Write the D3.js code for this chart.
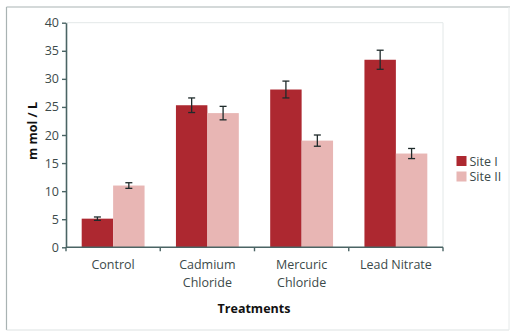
<!DOCTYPE html>
<html>
<head>
<meta charset="utf-8">
<script src="https://cdn.jsdelivr.net/npm/d3@7"></script>
<style>
  html, body { margin: 0; padding: 0; background: #fff; }
  svg { display: block; }
  text { font-family: "Open Sans", "Noto Sans", sans-serif; }
</style>
</head>
<body>
<svg id="chart" width="510" height="331"></svg>
<script>
// Treatment groups (multi-line labels split on "\n")
const categories = ["Control", "Cadmium\nChloride", "Mercuric\nChloride", "Lead Nitrate"];
const seriesNames = ["Site I", "Site II"];
const siteI = [5.1, 25.3, 28.1, 33.4];
const siteII = [11.0, 23.9, 19.0, 16.7];
const siteIErr = [0.3, 1.3, 1.5, 1.7];
const siteIIErr = [0.5, 1.2, 1.0, 0.9];
const yTicks = [0, 5, 10, 15, 20, 25, 30, 35, 40];
const colors = ["#ad2830", "#e8b6b4"];

const svg = d3.select("#chart");
const W = 510, H = 331;
const margin = { left: 66, right: 67, top: 22.7, bottom: 83.7 };

// Frame around the whole figure
svg.append("rect").attr("x", 0).attr("y", 0).attr("width", W).attr("height", H).attr("fill", "#fff");
svg.append("line").attr("x1", 6.5).attr("x2", 6.5).attr("y1", 7).attr("y2", 330).attr("stroke", "#a9b3b3").attr("stroke-width", 1.2);
svg.append("line").attr("x1", 6.5).attr("x2", 510).attr("y1", 7).attr("y2", 7).attr("stroke", "#a9b3b3").attr("stroke-width", 1.2);
svg.append("line").attr("x1", 6.5).attr("x2", 509).attr("y1", 330).attr("y2", 330).attr("stroke", "#dde2e2").attr("stroke-width", 1);
svg.append("line").attr("x1", 509).attr("x2", 509).attr("y1", 7).attr("y2", 330).attr("stroke", "#e6eaea").attr("stroke-width", 1);

const x0 = d3.scaleBand()
  .domain(categories)
  .range([margin.left, W - margin.right])
  .paddingInner(0.333)
  .paddingOuter(0.1665);
const x1 = d3.scaleBand()
  .domain(seriesNames)
  .range([0, x0.bandwidth()])
  .padding(0);
const y = d3.scaleLinear()
  .domain([0, 40])
  .range([H - margin.bottom, margin.top]);

// Plot area outline (top and right edges)
svg.append("path")
  .attr("d", `M${margin.left},${y(40)}H${W - margin.right}V${y(0)}`)
  .attr("fill", "none")
  .attr("stroke", "#e3e8e8")
  .attr("stroke-width", 1);

// Bars
const rows = categories.map((c, i) => ({
  cat: c,
  vals: [
    { s: seriesNames[0], v: siteI[i], e: siteIErr[i], c: colors[0] },
    { s: seriesNames[1], v: siteII[i], e: siteIIErr[i], c: colors[1] }
  ]
}));

const groups = svg.append("g").selectAll("g")
  .data(rows).join("g")
  .attr("transform", d => `translate(${x0(d.cat)},0)`);

groups.selectAll("rect")
  .data(d => d.vals).join("rect")
  .attr("x", d => x1(d.s))
  .attr("y", d => y(d.v))
  .attr("width", x1.bandwidth())
  .attr("height", d => y(0) - y(d.v))
  .attr("fill", d => d.c);

// Error bars
const eb = groups.selectAll("g.err")
  .data(d => d.vals).join("g")
  .attr("class", "err")
  .attr("transform", d => `translate(${x1(d.s) + x1.bandwidth() / 2},0)`);
eb.append("line")
  .attr("y1", d => y(d.v + d.e)).attr("y2", d => y(d.v - d.e))
  .attr("stroke", "#1f2b2b").attr("stroke-width", 1.3);
eb.append("line")
  .attr("x1", -3.5).attr("x2", 3.5)
  .attr("y1", d => y(d.v + d.e)).attr("y2", d => y(d.v + d.e))
  .attr("stroke", "#1f2b2b").attr("stroke-width", 1.3);
eb.append("line")
  .attr("x1", -3.5).attr("x2", 3.5)
  .attr("y1", d => y(d.v - d.e)).attr("y2", d => y(d.v - d.e))
  .attr("stroke", "#1f2b2b").attr("stroke-width", 1.3);

const axisColor = "#4a6464";
const textColor = "#3c4a4a";

// Y axis
const yAxis = svg.append("g")
  .attr("transform", `translate(${margin.left},0)`)
  .call(d3.axisLeft(y).tickValues(yTicks).tickSize(4).tickSizeOuter(0).tickPadding(3));
yAxis.select(".domain").attr("stroke", axisColor).attr("stroke-width", 1.6);
yAxis.selectAll(".tick line").attr("stroke", axisColor).attr("stroke-width", 1.4);
yAxis.selectAll(".tick text").attr("fill", textColor).attr("font-size", 12.5);

// X axis with ticks at category boundaries
const xAxisG = svg.append("g").attr("transform", `translate(0,${y(0)})`);
xAxisG.append("line")
  .attr("x1", margin.left).attr("x2", W - margin.right)
  .attr("stroke", axisColor).attr("stroke-width", 1.6);
const step = x0.step();
const boundaries = d3.range(categories.length + 1).map(i => margin.left + i * step);
xAxisG.selectAll("line.tk").data(boundaries).join("line")
  .attr("class", "tk")
  .attr("x1", d => d).attr("x2", d => d)
  .attr("y1", 0).attr("y2", 4)
  .attr("stroke", axisColor).attr("stroke-width", 1.4);

xAxisG.selectAll("text.cat").data(categories).join("text")
  .attr("class", "cat")
  .attr("text-anchor", "middle")
  .attr("fill", textColor)
  .attr("font-size", 12.5)
  .attr("transform", d => `translate(${x0(d) + x0.bandwidth() / 2},22)`)
  .each(function (d) {
    const t = d3.select(this);
    d.split("\n").forEach((line, i) => {
      t.append("tspan").attr("x", 0).attr("y", i * 18).text(line);
    });
  });

// Axis titles
svg.append("text")
  .attr("x", 254).attr("y", 313)
  .attr("text-anchor", "middle")
  .attr("font-size", 12.5).attr("font-weight", "bold")
  .attr("fill", "#111")
  .text("Treatments");
svg.append("text")
  .attr("transform", "translate(37,131) rotate(-90)")
  .attr("text-anchor", "middle")
  .attr("font-size", 12.5).attr("font-weight", "bold")
  .attr("fill", "#111")
  .text("m mol / L");

// Legend
const legend = svg.append("g").attr("transform", "translate(456.5,156)");
const li = legend.selectAll("g").data(seriesNames).join("g")
  .attr("transform", (d, i) => `translate(0,${i * 15.5})`);
li.append("rect").attr("width", 10).attr("height", 10)
  .attr("fill", (d, i) => colors[i]);
li.append("text").attr("x", 13).attr("y", 9.5)
  .attr("fill", textColor).attr("font-size", 12.5)
  .text(d => d);
</script>
</body>
</html>
